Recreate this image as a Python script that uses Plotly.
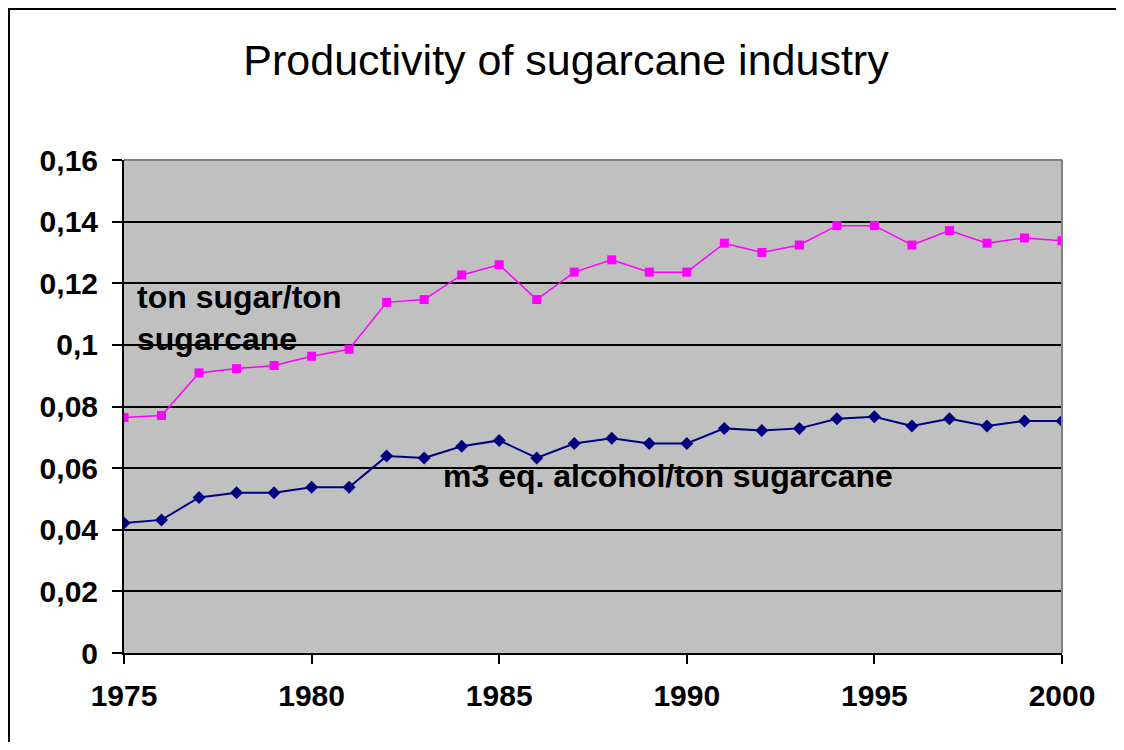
import plotly.graph_objects as go

years = list(range(1975, 2001))
sugar = [0.0764, 0.0771, 0.0909, 0.0923, 0.0933, 0.0963, 0.0986, 0.1138, 0.1147, 0.1227,
         0.1260, 0.1147, 0.1236, 0.1276, 0.1236, 0.1236, 0.1330, 0.1300, 0.1324, 0.1387,
         0.1387, 0.1324, 0.1371, 0.1330, 0.1347, 0.1338]
alcohol = [0.0422, 0.0432, 0.0505, 0.0520, 0.0520, 0.0538, 0.0538, 0.0639, 0.0633, 0.0671,
           0.0690, 0.0633, 0.0680, 0.0697, 0.0680, 0.0680, 0.0729, 0.0722, 0.0729, 0.0760,
           0.0767, 0.0737, 0.0760, 0.0737, 0.0753, 0.0753]
y_ticks = [0, 0.02, 0.04, 0.06, 0.08, 0.10, 0.12, 0.14, 0.16]
y_labels = ["0", "0,02", "0,04", "0,06", "0,08", "0,1", "0,12", "0,14", "0,16"]
x_ticks = [1975, 1980, 1985, 1990, 1995, 2000]

FONT = "Liberation Sans, Arial, sans-serif"
# page has an 8px body margin, so the figure is a bit smaller than the window
W, H = 1116, 734
L, R, T, B = 116, 62, 152, 89
PW, PH = W - L - R, H - T - B

fig = go.Figure()
fig.add_trace(go.Scatter(
    x=years, y=sugar, mode="lines+markers", name="ton sugar/ton sugarcane",
    line=dict(color="#ff00ff", width=1.5),
    marker=dict(symbol="square", size=9, color="#ff00ff")))
fig.add_trace(go.Scatter(
    x=years, y=alcohol, mode="lines+markers", name="m3 eq. alcohol/ton sugarcane",
    line=dict(color="#000080", width=2),
    marker=dict(symbol="diamond", size=10, color="#000080")))

fig.update_layout(
    width=W, height=H,
    margin=dict(l=L, r=R, t=T, b=B),
    paper_bgcolor="white",
    plot_bgcolor="#c0c0c0",
    showlegend=False,
    title=dict(text="Productivity of sugarcane industry", x=0.5, xref="container",
               y=1 - 52 / H, yref="container", xanchor="center", yanchor="middle",
               font=dict(family=FONT, size=43, color="black")),
    font=dict(family=FONT, color="black"),
)

fig.update_xaxes(
    range=[1975, 2000], tickvals=x_ticks, showgrid=False,
    ticks="outside", ticklen=9, tickcolor="black", tickwidth=2,
    ticklabelstandoff=6,
    showline=True, linecolor="black", linewidth=2,
    tickfont=dict(family=FONT, size=30, color="black", weight="bold"),
    zeroline=False)
fig.update_yaxes(
    range=[0, 0.16], tickvals=y_ticks, ticktext=y_labels,
    showgrid=True, gridcolor="black", gridwidth=1.5,
    ticks="outside", ticklen=10, tickcolor="black", tickwidth=2,
    ticklabelstandoff=8,
    showline=True, linecolor="black", linewidth=2,
    tickfont=dict(family=FONT, size=30, color="black", weight="bold"),
    zeroline=False)

# gray border on top/right of plot area
fig.add_shape(type="line", xref="paper", yref="paper", x0=0, y0=1, x1=1, y1=1,
              line=dict(color="#808080", width=2))
fig.add_shape(type="line", xref="paper", yref="paper", x0=1, y0=0, x1=1, y1=1,
              line=dict(color="#808080", width=2))
# outer chart frame
fig.add_shape(type="rect", xref="paper", yref="paper",
              x0=(1 - L) / PW, x1=(1114 - L) / PW,
              y0=(PH + T - H - 2) / PH, y1=(PH + T - 1) / PH,
              line=dict(color="black", width=2))

fig.add_annotation(x=1975.29, y=0.1088, xref="x", yref="y", xanchor="left", yanchor="middle",
                   text="ton sugar/ton<br>sugarcane", showarrow=False, align="left",
                   font=dict(family=FONT, size=32, color="black", weight="bold"))
fig.add_annotation(x=1983.45, y=0.0574, xref="x", yref="y", xanchor="left", yanchor="middle",
                   text="m3 eq. alcohol/ton sugarcane", showarrow=False, align="left",
                   font=dict(family=FONT, size=32, color="black", weight="bold"))

fig.write_html("out.html")
